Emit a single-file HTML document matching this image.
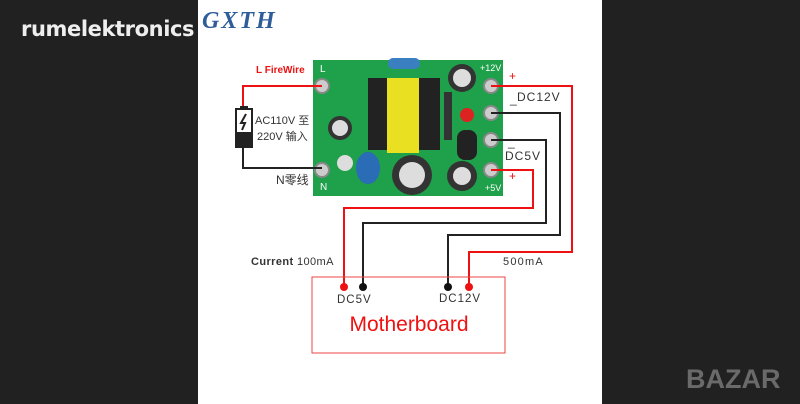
<!DOCTYPE html>
<html><head><meta charset="utf-8"><style>
body{margin:0;width:800px;height:404px;background:#212121;overflow:hidden;position:relative;font-family:"Liberation Sans","Noto Sans CJK SC",sans-serif}
.t{position:absolute;white-space:nowrap}
</style></head><body>
<div class="t" style="left:21px;top:17px;color:#eee;font-size:21px;font-weight:bold;font-family:'DejaVu Sans',sans-serif;letter-spacing:-0.4px">rumelektronics</div>
<svg style="position:absolute;left:0;top:0" width="800" height="404">
<rect x="198" y="0" width="404" height="404" fill="#fff"/>
<text x="202" y="28" font-family="Liberation Serif" font-style="italic" font-weight="bold" font-size="24" fill="#2f5d9a" letter-spacing="2">GXTH</text>
<rect x="313" y="60" width="190" height="136" fill="#1fa04a"/>
<rect x="368" y="78" width="72" height="72" fill="#222"/>
<rect x="387" y="78" width="32" height="75" fill="#e8e020"/>
<rect x="388" y="58" width="32" height="11" rx="5" fill="#3a7fc0"/>
<circle cx="340" cy="128" r="12" fill="#333"/><circle cx="340" cy="128" r="8" fill="#ddd"/>
<circle cx="462" cy="78" r="14" fill="#333"/><circle cx="462" cy="78" r="9" fill="#ddd"/>
<circle cx="412" cy="175" r="20" fill="#333"/><circle cx="412" cy="175" r="13" fill="#ddd"/>
<circle cx="462" cy="176" r="15" fill="#333"/><circle cx="462" cy="176" r="9" fill="#ddd"/>
<ellipse cx="368" cy="168" rx="12" ry="16" fill="#2a6cb5"/>
<circle cx="345" cy="163" r="8" fill="#ddd"/>
<rect x="457" y="130" width="20" height="30" rx="8" fill="#222"/>
<circle cx="467" cy="115" r="7" fill="#d22"/>
<rect x="444" y="92" width="8" height="48" fill="#333"/>
<g fill="#ccc" stroke="#888" stroke-width="2">
<circle cx="322" cy="86" r="7"/><circle cx="322" cy="170" r="7"/>
<circle cx="491" cy="86" r="7"/><circle cx="491" cy="113" r="7"/><circle cx="491" cy="140" r="7"/><circle cx="491" cy="170" r="7"/></g>
<text x="320" y="72" font-size="10" fill="#fff">L</text><text x="320" y="190" font-size="10" fill="#fff">N</text>
<text x="480" y="71" font-size="9" fill="#fff">+12V</text><text x="485" y="191" font-size="9" fill="#fff">+5V</text>
<g fill="none" stroke-width="2">
<polyline points="322,86 243,86 243,108" stroke="#e11"/>
<polyline points="243,147 243,168 322,168" stroke="#222"/>
<polyline points="491,86 572,86 572,252 469,252 469,287" stroke="#e11"/>
<polyline points="491,113 560,113 560,235 448,235 448,287" stroke="#222"/>
<polyline points="491,140 546,140 546,223 363,223 363,287" stroke="#222"/>
<polyline points="491,170 533,170 533,208 344,208 344,287" stroke="#e11"/>
</g>
<rect x="236" y="109" width="16" height="38" fill="#fff" stroke="#222" stroke-width="2"/>
<rect x="240" y="106" width="8" height="3" fill="#222"/>
<rect x="237" y="132" width="14" height="14" fill="#222"/>
<path d="M246 114 L241 123 L245 123 L242 130" stroke="#222" stroke-width="2" fill="none"/>
<rect x="312" y="277" width="193" height="76" fill="none" stroke="#e44" stroke-width="1"/>
<circle cx="344" cy="287" r="4" fill="#e11"/><circle cx="363" cy="287" r="4" fill="#111"/>
<circle cx="448" cy="287" r="4" fill="#111"/><circle cx="469" cy="287" r="4" fill="#e11"/>
<g font-size="11" fill="#333">
<text x="256" y="73" fill="#e11" font-weight="bold" font-size="10">L  FireWire</text>
<text x="509" y="80" fill="#e11" font-size="12">+</text>
<text x="510" y="103" font-size="12">_</text><text x="517" y="101" font-size="12" letter-spacing="1">DC12V</text>
<text x="508" y="146" font-size="12">_</text><text x="505" y="160" font-size="12" letter-spacing="1">DC5V</text>
<text x="509" y="180" fill="#e11" font-size="12">+</text>
<text x="255" y="124" font-size="11">AC110V 至</text>
<text x="257" y="140" font-size="11">220V 输入</text>
<text x="276" y="184" font-size="12">N零线</text>
<text x="251" y="265" font-size="11" letter-spacing="0.4"><tspan font-weight="bold">Current</tspan> 100mA</text>
<text x="503" y="265" font-size="11" letter-spacing="1.2">500mA</text>
<text x="337" y="303" font-size="11.5" letter-spacing="1">DC5V</text>
<text x="439" y="302" font-size="11.5" letter-spacing="1">DC12V</text>
</g>
<text x="409" y="331" text-anchor="middle" font-size="21" fill="#e11">Motherboard</text>
<text x="686" y="388" font-family="Liberation Sans" font-weight="bold" font-size="27" fill="#6a6a6a">BAZAR</text>
</svg>
</body></html>
